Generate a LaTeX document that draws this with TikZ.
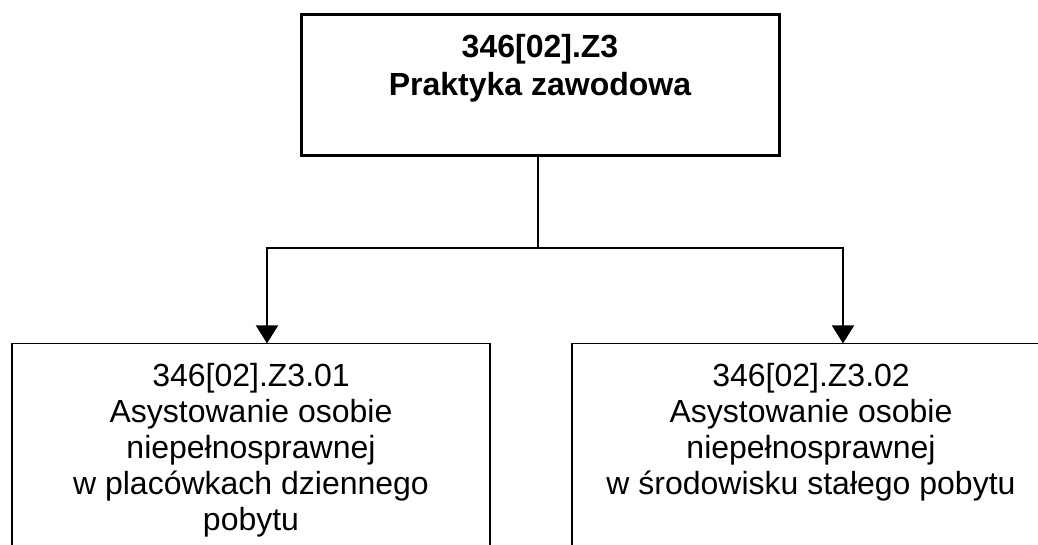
\documentclass[tikz,border=0pt]{standalone}
\usepackage{fontspec}
\setmainfont{Liberation Sans}
\usepackage{tikz}
\usetikzlibrary{positioning, arrows.meta}
\newcommand{\boxtext}[3]{\parbox[t][#1][t]{478pt}{\fontsize{32}{#2}\selectfont\centering\rule{0pt}{43pt}#3}}
\tikzstyle{mainbox} = [rectangle, draw=black, line width=3pt, inner sep=0pt, outer sep=0pt, font=\bfseries]
\tikzstyle{taskbox} = [rectangle, draw=black, line width=1.6pt, inner sep=0pt, outer sep=0pt]
\tikzstyle{link} = [line width=1.4pt]
\tikzstyle{arrow} = [line width=1.4pt, -{Triangle[width=22pt,length=18pt]}]
\begin{document}
\begin{tikzpicture}[x=1pt, y=1pt]
	\useasboundingbox (0,0) rectangle (1038,545);

	\node (top) [mainbox] at (540,460) {\boxtext{141pt}{38pt}{346[02].Z3\\Praktyka zawodowa}};
	\node (left) [taskbox, below=188pt of top, xshift=-289pt] {\boxtext{260pt}{36pt}{346[02].Z3.01\\Asystowanie osobie\\niepełnosprawnej\\w placówkach dziennego\\pobytu}};
	\node (right) [taskbox, below=188pt of top, xshift=271pt] {\boxtext{260pt}{36pt}{346[02].Z3.02\\Asystowanie osobie\\niepełnosprawnej\\w środowisku stałego pobytu}};
	\coordinate (split) at (538,297);

	\draw [link] (split |- top.south) -- (split);
	\draw [arrow] (split) -| ([xshift=16pt]left.north);
	\draw [arrow] (split) -| ([xshift=32pt]right.north);
\end{tikzpicture}
\end{document}
